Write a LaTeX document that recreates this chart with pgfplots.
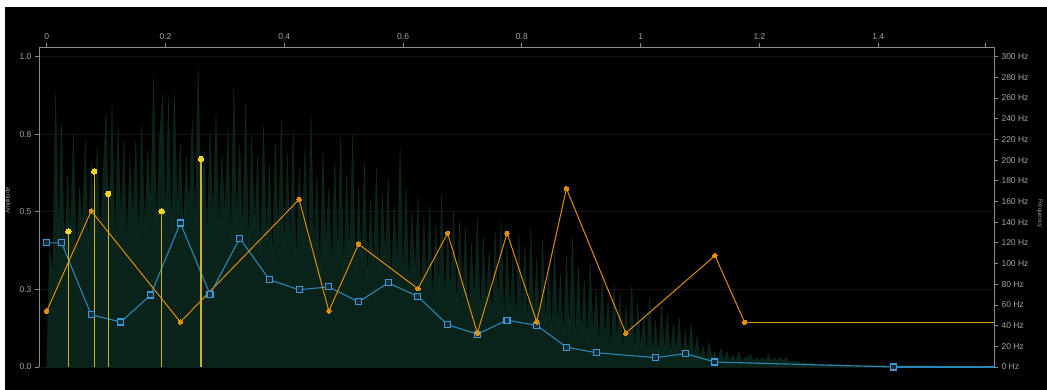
\documentclass[border=0pt]{standalone}
\usepackage{fontspec}
\setmainfont{Liberation Sans}
\usepackage{pgfplots}
\usepackage{pgfplotstable}
\pgfplotsset{compat=1.18}
\definecolor{tickgray}{RGB}{165,165,165}
\definecolor{axgray}{RGB}{140,140,140}
\definecolor{gridc}{RGB}{20,20,20}
\definecolor{wavefill}{RGB}{10,35,26}
\definecolor{wavedraw}{RGB}{13,52,38}
\definecolor{tealc}{RGB}{42,134,180}
\definecolor{tealm}{RGB}{60,155,215}
\definecolor{tealin}{RGB}{24,44,56}
\definecolor{orangec}{RGB}{224,140,10}
\definecolor{stemc}{RGB}{205,178,35}
\definecolor{dotc}{RGB}{245,212,40}
% waveform amplitude, one value every 0.005 s
\pgfplotstableread[row sep=\\]{
a\\
0.00\\ 0.38\\ 0.30\\ 0.88\\ 0.41\\ 0.79\\ 0.36\\ 0.62\\ 0.43\\ 0.75\\ 0.35\\ 0.58\\ 0.44\\ 0.73\\ 0.38\\ 0.66\\ 0.45\\ 0.71\\ 0.40\\ 0.62\\
0.82\\ 0.42\\ 0.85\\ 0.39\\ 0.78\\ 0.46\\ 0.73\\ 0.40\\ 0.68\\ 0.47\\ 0.73\\ 0.41\\ 0.78\\ 0.44\\ 0.70\\ 0.52\\ 0.93\\ 0.45\\ 0.74\\ 0.88\\
0.48\\ 0.87\\ 0.43\\ 0.88\\ 0.50\\ 0.72\\ 0.44\\ 0.68\\ 0.51\\ 0.80\\ 0.46\\ 0.97\\ 0.50\\ 0.70\\ 0.42\\ 0.76\\ 0.47\\ 0.82\\ 0.44\\ 0.69\\
0.48\\ 0.77\\ 0.40\\ 0.90\\ 0.46\\ 0.72\\ 0.43\\ 0.85\\ 0.38\\ 0.74\\ 0.45\\ 0.68\\ 0.36\\ 0.78\\ 0.41\\ 0.66\\ 0.34\\ 0.72\\ 0.43\\ 0.80\\
0.37\\ 0.69\\ 0.40\\ 0.76\\ 0.33\\ 0.64\\ 0.42\\ 0.71\\ 0.35\\ 0.82\\ 0.38\\ 0.62\\ 0.30\\ 0.70\\ 0.39\\ 0.58\\ 0.32\\ 0.66\\ 0.36\\ 0.74\\
0.31\\ 0.62\\ 0.36\\ 0.75\\ 0.30\\ 0.58\\ 0.34\\ 0.66\\ 0.28\\ 0.54\\ 0.33\\ 0.64\\ 0.29\\ 0.56\\ 0.35\\ 0.61\\ 0.27\\ 0.52\\ 0.32\\ 0.71\\
0.29\\ 0.58\\ 0.25\\ 0.50\\ 0.30\\ 0.55\\ 0.22\\ 0.48\\ 0.26\\ 0.52\\ 0.20\\ 0.46\\ 0.25\\ 0.56\\ 0.21\\ 0.44\\ 0.24\\ 0.50\\ 0.19\\ 0.47\\
0.22\\ 0.45\\ 0.18\\ 0.40\\ 0.21\\ 0.48\\ 0.17\\ 0.42\\ 0.20\\ 0.38\\ 0.16\\ 0.44\\ 0.19\\ 0.47\\ 0.15\\ 0.40\\ 0.18\\ 0.36\\ 0.14\\ 0.43\\
0.17\\ 0.39\\ 0.13\\ 0.45\\ 0.16\\ 0.35\\ 0.12\\ 0.41\\ 0.14\\ 0.33\\ 0.11\\ 0.38\\ 0.13\\ 0.30\\ 0.10\\ 0.36\\ 0.12\\ 0.42\\ 0.09\\ 0.32\\
0.11\\ 0.28\\ 0.08\\ 0.34\\ 0.10\\ 0.25\\ 0.07\\ 0.30\\ 0.09\\ 0.22\\ 0.06\\ 0.27\\ 0.08\\ 0.24\\ 0.05\\ 0.20\\ 0.07\\ 0.26\\ 0.05\\ 0.21\\
0.06\\ 0.18\\ 0.04\\ 0.22\\ 0.05\\ 0.15\\ 0.04\\ 0.20\\ 0.05\\ 0.17\\ 0.04\\ 0.14\\ 0.05\\ 0.16\\ 0.03\\ 0.12\\ 0.04\\ 0.14\\ 0.03\\ 0.10\\
0.03\\ 0.07\\ 0.02\\ 0.08\\ 0.03\\ 0.05\\ 0.02\\ 0.06\\ 0.02\\ 0.05\\ 0.02\\ 0.04\\ 0.02\\ 0.05\\ 0.02\\ 0.03\\ 0.03\\ 0.04\\ 0.02\\ 0.03\\
0.02\\ 0.03\\ 0.02\\ 0.04\\ 0.02\\ 0.03\\ 0.02\\ 0.03\\ 0.02\\ 0.03\\ 0.015\\ 0.02\\ 0.015\\ 0.02\\ 0.012\\ 0.015\\ 0.01\\ 0.012\\ 0.01\\ 0.01\\
}\wave
\begin{document}
\begin{tikzpicture}
\fill[white] (-39pt,-23pt) rectangle (1008pt,367pt);
\fill[black] (-34pt,-23pt) rectangle (1008pt,360pt);
\begin{axis}[
  at={(0,0)}, anchor=south west, scale only axis,
  width=955pt, height=320pt,
  xmin=-0.01296, xmax=1.5948, ymin=0, ymax=1.0312,
  axis x line=none, axis y line*=left,
  clip=false,
  axis line style={axgray, line width=0.8pt},
  ytick={0,0.25,0.5,0.75,1},
  yticklabels={0.0,0.3,0.5,0.8,1.0},
  ymajorgrids, grid style={gridc, line width=0.8pt},
  tick align=outside, major tick length=4pt,
  tick style={axgray, line width=0.8pt},
  yticklabel style={font=\fontsize{8.5}{9}\selectfont, text=tickgray},
]
\addplot[fill=wavefill, draw=wavedraw, line width=0.25pt]
  table[x expr=\coordindex*0.005, y=a] {\wave} \closedcycle;
\addplot[fill=wavefill, draw=wavedraw, line width=0.25pt]
  coordinates {(1.29,0.01)(1.35,0.006)(1.45,0.004)(1.58,0.003)(1.58,0)(1.29,0)};
% teal series
\addplot[tealc, line width=1.1pt] coordinates {(1.425,0)(1.5948,0)};
\addplot[tealc, line width=1.1pt, mark=square*, mark size=3pt,
  mark options={draw=tealm, fill=tealin, line width=1.1pt}] coordinates {
(0,0.40)(0.025,0.40)(0.075,0.168)(0.125,0.145)(0.175,0.232)(0.225,0.464)
(0.275,0.234)(0.325,0.415)(0.375,0.281)(0.425,0.249)(0.475,0.258)(0.525,0.210)
(0.575,0.271)(0.625,0.227)(0.675,0.136)(0.725,0.106)(0.775,0.151)(0.825,0.134)
(0.875,0.064)(0.925,0.046)(1.025,0.030)(1.075,0.043)(1.125,0.016)(1.425,0.0)};
% orange series
\addplot[orangec, line width=1pt] coordinates {(1.175,0.144)(1.5948,0.144)};
\addplot[orangec, line width=1pt, mark=*, mark size=2.2pt,
  mark options={fill=orangec, draw=orangec, line width=0pt}] coordinates {
(0,0.180)(0.075,0.503)(0.225,0.145)(0.425,0.540)(0.475,0.180)(0.525,0.396)
(0.625,0.252)(0.675,0.431)(0.725,0.109)(0.775,0.431)(0.825,0.145)(0.875,0.575)
(0.975,0.109)(1.125,0.359)(1.175,0.144)};
% yellow stems
\addplot[draw=stemc, line width=1.2pt, ycomb, mark=*, mark size=2.7pt,
  mark options={fill=dotc, draw=dotc, line width=0pt}] coordinates {
(0.0364,0.437)(0.080,0.630)(0.1037,0.558)(0.1936,0.502)(0.2598,0.671)};
\node[rotate=90, font=\fontsize{6}{7}\selectfont, text=tickgray]
  at (axis description cs:-0.0325,0.52) {Amplitude};
\node[rotate=-90, font=\fontsize{6}{7}\selectfont, text=tickgray]
  at (axis description cs:1.048,0.48) {Frequency};
\end{axis}
\begin{axis}[
  at={(0,0)}, anchor=south west, scale only axis,
  width=955pt, height=320pt,
  xmin=-0.01296, xmax=1.5948, ymin=0, ymax=309.36,
  axis x line*=top, axis y line*=right,
  axis line style={axgray, line width=0.8pt},
  xtick={0,0.2,0.4,0.6,0.8,1,1.2,1.4},
  xticklabels={0,0.2,0.4,0.6,0.8,1,1.2,1.4},
  extra x ticks={1.581}, extra x tick labels={},
  ytick={0,20,...,300},
  yticklabels={0 Hz,20 Hz,40 Hz,60 Hz,80 Hz,100 Hz,120 Hz,140 Hz,160 Hz,180 Hz,200 Hz,220 Hz,240 Hz,260 Hz,280 Hz,300 Hz},
  tick align=outside, major tick length=4pt,
  tick style={axgray, line width=0.8pt},
  ticklabel style={font=\fontsize{8.5}{9}\selectfont, text=tickgray},
]
\addplot[draw=none] coordinates {(0,0)};
\end{axis}
\pgfresetboundingbox
\path[use as bounding box] (-39pt,-23pt) rectangle (1008pt,367pt);
\end{tikzpicture}
\end{document}
